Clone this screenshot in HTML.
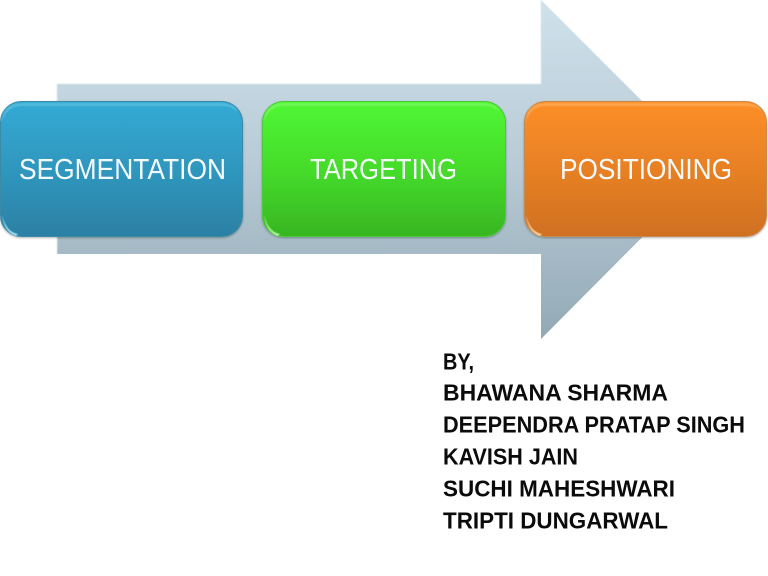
<!DOCTYPE html>
<html>
<head>
<meta charset="utf-8">
<style>
html,body{margin:0;padding:0;background:#fff;width:768px;height:576px;overflow:hidden}
svg{display:block}
text{font-family:"Liberation Sans",sans-serif}
</style>
</head>
<body>
<svg width="768" height="576" viewBox="0 0 768 576" xmlns="http://www.w3.org/2000/svg">
<defs>
<linearGradient id="arrow" x1="0" y1="0" x2="0" y2="1">
<stop offset="0" stop-color="#cfe2ec"/>
<stop offset="0.5" stop-color="#b7cad5"/>
<stop offset="1" stop-color="#92a9b5"/>
</linearGradient>
<linearGradient id="blue" x1="0" y1="0" x2="0" y2="1">
<stop offset="0" stop-color="#33aad4"/>
<stop offset="0.55" stop-color="#2f95bc"/>
<stop offset="1" stop-color="#2c80a4"/>
</linearGradient>
<linearGradient id="green" x1="0" y1="0" x2="0" y2="1">
<stop offset="0" stop-color="#50f733"/>
<stop offset="0.55" stop-color="#44d92a"/>
<stop offset="1" stop-color="#38b522"/>
</linearGradient>
<linearGradient id="orange" x1="0" y1="0" x2="0" y2="1">
<stop offset="0" stop-color="#fd8e28"/>
<stop offset="0.55" stop-color="#e57f24"/>
<stop offset="1" stop-color="#cf7020"/>
</linearGradient>
<filter id="soft" x="-5%" y="-5%" width="110%" height="112%">
<feDropShadow dx="0" dy="1" stdDeviation="1" flood-color="#000" flood-opacity="0.3"/>
</filter>
<filter id="blur" x="-5%" y="-20%" width="110%" height="140%">
<feGaussianBlur stdDeviation="0.6"/>
</filter>
</defs>

<polygon points="57,84 541,84 541,0 710,169 541,339 541,254 57,254" fill="url(#arrow)"/>
<polyline points="57,254 57,84 541,84 541,0" fill="none" stroke="#dfeaf0" stroke-width="1"/>

<rect x="0.5" y="101.5" width="242" height="135" rx="21" fill="url(#blue)" stroke="#3a8aa6" filter="url(#soft)"/>
<rect x="262.5" y="101.5" width="243" height="135" rx="21" fill="url(#green)" stroke="#4cc83a" filter="url(#soft)"/>
<rect x="524.5" y="101.5" width="242" height="135" rx="21" fill="url(#orange)" stroke="#c98a4d" filter="url(#soft)"/>

<g filter="url(#blur)">
<path d="M2 122 Q2 104 21 103 L222 103 Q235 104 238 112 Q232 106 222 106 L21 106 Q6 107 2 122Z" fill="#7fcfe8" opacity="0.4"/>
<path d="M2 215 Q6 232 18 234 L16 236 Q4 232 2 215Z" fill="#a6e3f2"/>
<path d="M264 122 Q264 104 283 103 L484 103 Q497 104 500 112 Q494 106 484 106 L283 106 Q268 107 264 122Z" fill="#9dfa88" opacity="0.4"/>
<path d="M264 215 Q268 232 280 234 L278 236 Q266 232 264 215Z" fill="#b6f7a5"/>
<path d="M526 122 Q526 104 545 103 L746 103 Q759 104 762 112 Q756 106 746 106 L545 106 Q530 107 526 122Z" fill="#ffc27c" opacity="0.4"/>
<path d="M526 215 Q530 232 542 234 L540 236 Q528 232 526 215Z" fill="#fdd5a0"/>
</g>

<g fill="#f4fafc" font-size="29">
<text x="19" y="179" textLength="207" lengthAdjust="spacingAndGlyphs">SEGMENTATION</text>
<text x="310" y="179" textLength="147" lengthAdjust="spacingAndGlyphs">TARGETING</text>
<text x="560" y="179" textLength="172" lengthAdjust="spacingAndGlyphs">POSITIONING</text>
</g>

<g fill="#0b0b0b" font-size="23" font-weight="bold">
<text x="443" y="369.500" textLength="31" lengthAdjust="spacingAndGlyphs">BY,</text>
<text x="443" y="400.500" textLength="225" lengthAdjust="spacingAndGlyphs">BHAWANA SHARMA</text>
<text x="443" y="432.500" textLength="302" lengthAdjust="spacingAndGlyphs">DEEPENDRA PRATAP SINGH</text>
<text x="443" y="464.500" textLength="135" lengthAdjust="spacingAndGlyphs">KAVISH JAIN</text>
<text x="443" y="496.500" textLength="232" lengthAdjust="spacingAndGlyphs">SUCHI MAHESHWARI</text>
<text x="443" y="528.500" textLength="225" lengthAdjust="spacingAndGlyphs">TRIPTI DUNGARWAL</text>
</g>
</svg>
</body>
</html>
